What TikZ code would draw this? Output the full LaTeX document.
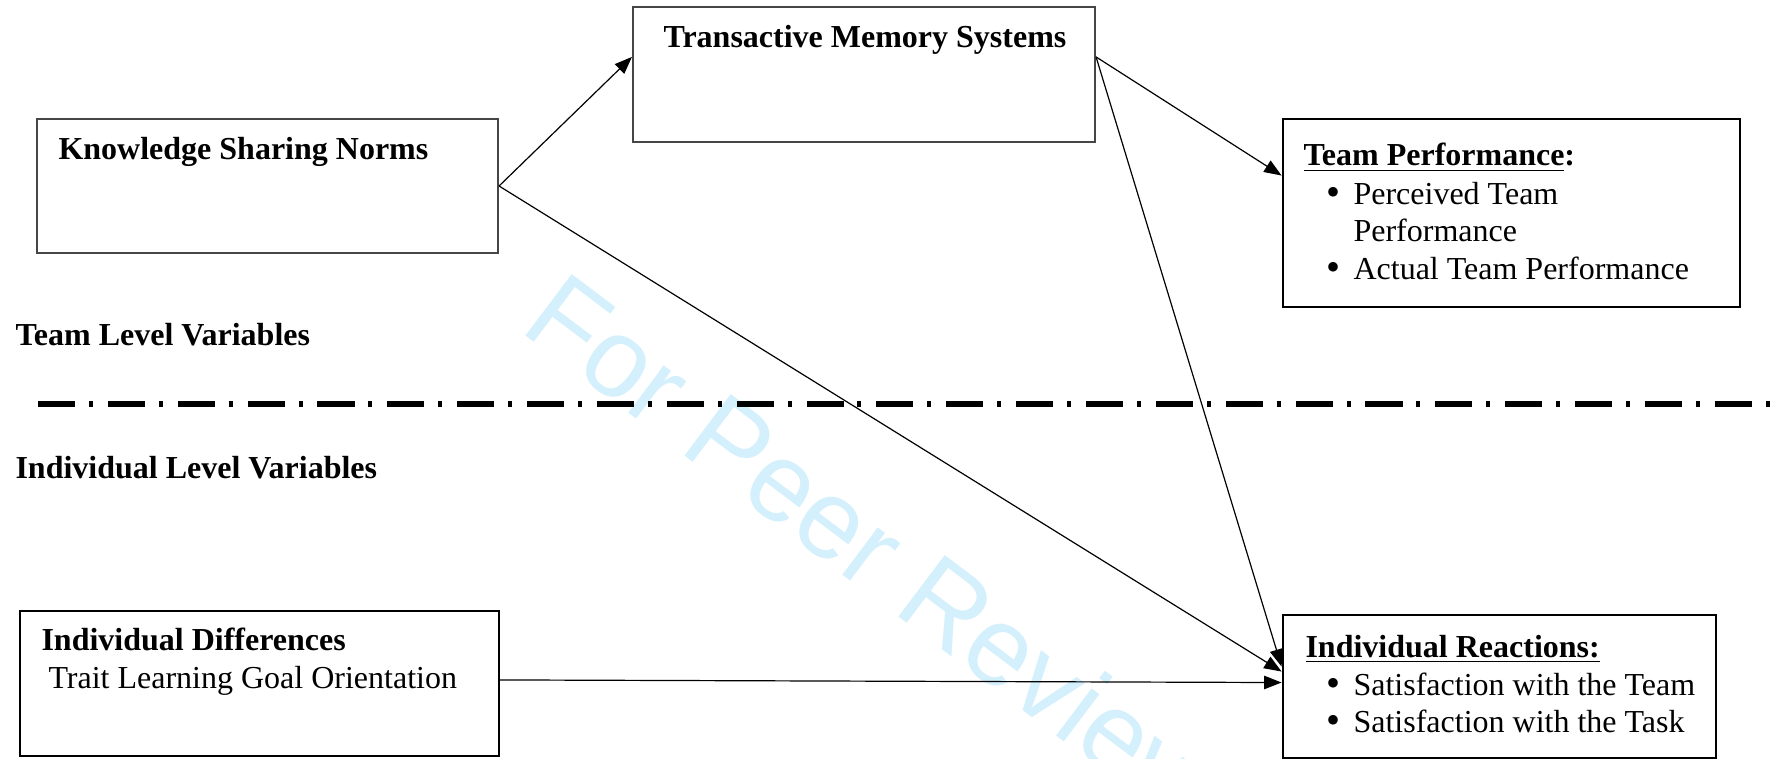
\documentclass[tikz,border=0pt]{standalone}
\usepackage{fontspec}
\setmainfont{Liberation Serif}
\newfontfamily\wmfont{Liberation Sans}
\usetikzlibrary{arrows.meta,calc,fit}
\definecolor{wmblue}{RGB}{212,240,252}
\definecolor{boxgray}{RGB}{70,70,70}
\begin{document}
\begin{tikzpicture}[x=0.375pt,y=-0.375pt,
  graybox/.style={draw=boxgray, line width=0.8pt, inner sep=0pt, rectangle},
  blackbox/.style={draw=black, line width=1.1pt, inner sep=0pt, rectangle},
  thinbox/.style={draw=black, line width=0.8pt, inner sep=0pt, rectangle},
  head/.style={anchor=base west, inner sep=0pt, font=\fontsize{12}{14}\selectfont\bfseries},
  txt/.style={anchor=base west, inner sep=0pt, font=\fontsize{12}{14}\selectfont},
  bul/.style={anchor=base west, inner sep=0pt, font=\fontsize{15}{15}\selectfont},
  conn/.style={line width=0.45pt, -{Triangle[length=6.5pt,width=5pt]}},
  divider/.style={line width=1.9pt, line cap=butt, dash pattern=on 13.9pt off 5.2pt on 1.5pt off 5.6pt},
  wm/.style={rotate=-37, anchor=base west, inner sep=0pt, text=wmblue, font=\wmfont\fontsize{42}{42}\selectfont}]
\useasboundingbox (0,0) rectangle (1775,759);

% watermark
\node[wm] (wmark) at (518,330) {For Peer Review};

% boxes
\node[graybox, fit={(37,119) (498,253)}] (ksn) {};
\node[graybox, fit={(633,7) (1095,142)}] (tms) {};
\node[blackbox, fit={(1283,119) (1740,307)}] (tp) {};
\node[thinbox, fit={(20,611) (499,756)}] (id) {};
\node[blackbox, fit={(1283,615) (1716,758)}] (ir) {};

% texts
\node[head] (ksnt) at (58,160) {Knowledge Sharing Norms};
\node[head] (tmst) at (663,48) {Transactive Memory Systems};

\node[head] (tpt) at (1303,166) {\underline{Team Performance}:};
\node[bul] (tpb1) at (1326,206) {•};
\node[txt] (tp1) at (1353,205) {Perceived Team};
\node[txt] (tp1b) at (1353,242) {Performance};
\node[bul] (tpb2) at (1326,281) {•};
\node[txt] (tp2) at (1353,280) {Actual Team Performance};

\node[head] (tlv) at (15,346) {Team Level Variables};
\node[head] (ilv) at (15,478) {Individual Level Variables};

\node[head] (idt) at (41,650) {Individual Differences};
\node[txt] (idt2) at (48,688) {Trait Learning Goal Orientation};

\node[head] (irt) at (1305,657) {\underline{Individual Reactions:}};
\node[bul] (irb1) at (1326,696) {•};
\node[txt] (ir1) at (1353,695) {Satisfaction with the Team};
\node[bul] (irb2) at (1326,733) {•};
\node[txt] (ir2) at (1353,732) {Satisfaction with the Task};

% divider
\coordinate (divL) at (38,404);
\coordinate (divR) at (1790,404);
\draw[divider] (divL) -- (divR);

% connectors
\draw[conn] (ksn.east) -- ($(tms.north west)+(0,51)$);
\draw[conn] ($(tms.north east)+(0,51)$) -- ($(tp.north west)+(0,58)$);
\draw[conn] ($(tms.north east)+(0,51)$) -- ($(ir.north west)+(0,53)$);
\draw[conn] (ksn.east) -- ($(ir.north west)+(0,58)$);
\draw[conn] ($(id.north east)+(0,70)$) -- ($(ir.north west)+(0,69)$);
\end{tikzpicture}
\end{document}
